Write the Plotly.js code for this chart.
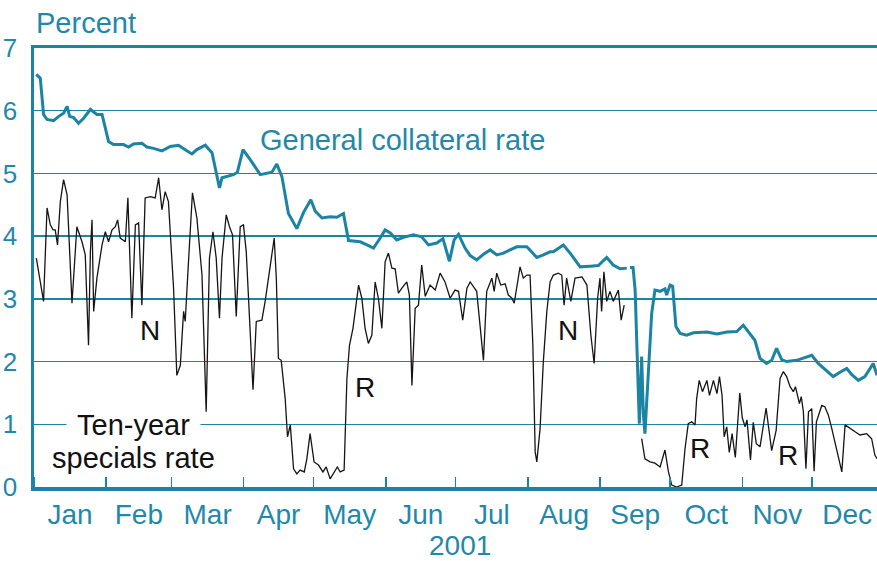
<!DOCTYPE html>
<html>
<head>
<meta charset="utf-8">
<script src="https://cdn.plot.ly/plotly-3.0.1.min.js"></script>
<style>
html,body{margin:0;padding:0;background:#ffffff;}
#chart{width:877px;height:561px;}
</style>
</head>
<body>
<div id="chart"></div>
<script>
// ---- Data (day of year 2001, percent) ----
const YEAR = 2001;

const gcDay = [
  1.0, 2.7, 4.1, 5.6, 8.4, 10.6, 12.7, 14.2, 15.3, 17.0,
  19.1, 21.3, 24.2, 27.0, 29.2, 32.0, 34.1, 38.4, 40.6, 42.7,
  46.3, 48.5, 51.3, 54.9, 58.5, 62.0, 65.6, 67.8, 69.9, 73.5,
  76.4, 79.6, 80.7, 85.6, 87.3, 89.7, 92.8, 97.1, 102.1, 104.2,
  106.4, 109.2, 112.8, 115.7, 118.8, 120.7, 123.6, 127.1, 130.0, 132.8,
  135.0, 137.1, 140.0, 142.9, 145.7, 148.6, 150.7, 152.9, 155.7, 158.6,
  162.8, 166.4, 169.3, 172.9, 175.5, 178.3, 180.3, 182.2, 185.0, 187.2,
  190.0, 192.9, 195.8, 198.6, 201.5, 204.3, 207.2, 211.5, 212.9, 215.8,
  218.6, 221.5, 222.9, 227.2, 230.1, 232.9, 234.4, 238.7, 242.2, 245.8,
  248.6, 251.5, 254.4, 255.1, 255.8, 257.1, 258.0, 258.9, 259.8, 260.8,
  261.5, 262.2, 263.7, 265.1, 266.5, 268.7, 270.8, 271.5, 273.0, 274.1,
  275.5, 277.3, 280.1, 283.0, 288.8, 293.1, 297.4, 301.6, 304.4, 307.3,
  309.4, 311.6, 314.4, 316.6, 318.7, 320.9, 323.0, 327.3, 331.6, 333.8,
  336.6, 340.2, 343.0, 345.9, 348.8, 351.0, 353.8, 356.6, 358.8, 360.2,
  361.8
];
const gcRate = [
  6.58, 6.52, 5.94, 5.86, 5.84, 5.91, 5.96, 6.07, 5.91, 5.89,
  5.80, 5.88, 6.02, 5.94, 5.94, 5.51, 5.46, 5.46, 5.42, 5.47,
  5.48, 5.42, 5.40, 5.36, 5.43, 5.45, 5.36, 5.31, 5.38, 5.45,
  5.33, 4.77, 4.93, 4.98, 5.02, 5.38, 5.22, 4.98, 5.02, 5.15,
  4.95, 4.36, 4.12, 4.38, 4.58, 4.40, 4.29, 4.31, 4.30, 4.36,
  3.93, 3.92, 3.91, 3.86, 3.81, 3.97, 4.10, 4.05, 3.94, 3.98,
  4.02, 3.99, 3.86, 3.89, 3.96, 3.60, 3.94, 4.03, 3.81, 3.69,
  3.62, 3.71, 3.78, 3.70, 3.73, 3.78, 3.83, 3.83, 3.78, 3.66,
  3.70, 3.75, 3.75, 3.86, 3.73, 3.59, 3.51, 3.52, 3.53, 3.66,
  3.54, 3.48, 3.49, null, 3.50, 3.50, 3.14, 2.13, 1.01, 2.08,
  1.17, 0.85, 1.81, 2.77, 3.14, 3.12, 3.16, 3.06, 3.22, 3.20,
  2.56, 2.45, 2.42, 2.46, 2.47, 2.44, 2.47, 2.48, 2.58, 2.45,
  2.34, 2.05, 1.97, 2.02, 2.21, 2.03, 2.00, 2.02, 2.08, 2.10,
  1.97, 1.86, 1.76, 1.83, 1.89, 1.79, 1.70, 1.76, 1.89, 1.97,
  1.78
];

const spDay = [
  1.0, 2.7, 4.1, 5.6, 7.0, 8.2, 9.1, 10.1, 11.3, 12.7,
  14.2, 16.3, 18.4, 20.6, 22.0, 23.4, 24.2, 24.9, 25.6, 27.0,
  29.2, 30.6, 32.0, 33.5, 34.9, 35.9, 37.0, 39.2, 40.3, 42.0,
  43.5, 44.9, 46.3, 47.7, 49.9, 52.0, 53.5, 54.9, 56.3, 57.7,
  59.9, 61.3, 62.8, 64.2, 64.9, 66.3, 68.0, 69.9, 72.1, 73.9,
  75.3, 76.8, 78.2, 79.6, 80.7, 82.5, 83.9, 85.2, 86.8, 88.5,
  89.9, 91.1, 92.5, 94.0, 95.4, 97.8, 99.2, 101.4, 103.1, 104.0,
  104.9, 106.1, 107.8, 108.8, 110.0, 111.4, 112.8, 114.2, 116.0, 117.1,
  118.5, 120.2, 122.1, 124.0, 125.4, 127.1, 128.5, 130.2, 131.4, 133.1,
  134.3, 135.4, 136.9, 137.8, 139.3, 140.7, 142.1, 143.5, 145.0, 146.4,
  147.8, 149.3, 150.7, 152.1, 153.6, 155.0, 156.4, 157.9, 160.0, 161.1,
  162.2, 163.6, 165.0, 166.4, 167.9, 170.0, 172.2, 174.3, 176.4, 178.6,
  180.7, 182.2, 184.0, 185.8, 187.2, 190.0, 191.8, 192.9, 194.3, 196.5,
  197.5, 198.6, 200.3, 202.2, 203.6, 205.1, 206.1, 207.2, 208.6, 210.0,
  211.5, 212.9, 214.1, 215.1, 215.8, 217.2, 218.6, 220.1, 221.5, 222.9,
  225.0, 226.5, 227.5, 228.6, 230.4, 232.2, 235.2, 237.3, 239.0, 240.4,
  241.9, 242.9, 243.6, 244.6, 245.8, 247.2, 248.6, 250.8, 252.0, 253.3,
  255.0, 260.8, 262.2, 264.4, 266.5, 268.7, 270.8, 272.3, 273.7, 275.8,
  278.0, 279.4, 280.8, 282.3, 283.7, 284.4, 285.5, 286.9, 288.8, 289.9,
  291.6, 293.1, 294.2, 295.3, 296.2, 297.3, 298.4, 299.6, 301.0, 302.9,
  304.0, 305.2, 306.0, 307.5, 308.7, 310.0, 311.6, 314.2, 316.6, 318.5,
  320.2, 321.6, 323.0, 324.5, 325.9, 326.8, 328.5, 329.3, 330.2, 331.3,
  332.4, 333.8, 334.8, 335.8, 338.1, 339.4, 340.9, 342.4, 343.8, 345.3,
  346.7, 348.1, 350.2, 352.4, 354.5, 357.4, 359.5, 360.9, 361.8
];
const spRate = [
  3.65, 3.27, 2.96, 4.45, 4.18, 4.10, 4.10, 3.86, 4.55, 4.90,
  4.66, 2.93, 4.15, 3.91, 3.70, 2.26, 3.75, 4.26, 2.80, 3.33,
  3.86, 4.07, 3.91, 4.10, 4.15, 4.26, 3.97, 3.91, 4.61, 2.69,
  4.18, 4.21, 2.90, 4.61, 4.63, 4.61, 4.93, 4.42, 4.71, 4.55,
  3.17, 1.78, 1.94, 2.80, 2.64, 3.59, 4.69, 4.29, 3.38, 1.20,
  3.65, 4.07, 3.65, 2.69, 3.65, 4.34, 4.15, 4.02, 2.72, 4.15,
  4.18, 3.75, 2.69, 1.55, 2.64, 2.66, 2.96, 3.49, 3.97, 3.33,
  2.05, 2.02, 1.41, 0.80, 0.99, 0.29, 0.21, 0.27, 0.24, 0.45,
  0.85, 0.40, 0.35, 0.24, 0.32, 0.13, 0.21, 0.32, 0.24, 0.27,
  1.73, 2.26, 2.53, 2.80, 3.22, 3.01, 2.53, 2.29, 2.42, 3.27,
  3.01, 2.53, 3.59, 3.73, 3.49, 3.48, 3.09, 3.17, 3.27, 3.06,
  1.62, 2.85, 2.90, 3.54, 3.04, 3.22, 3.14, 3.41, 3.27, 3.01,
  3.14, 3.12, 2.66, 3.17, 3.27, 3.12, 2.42, 2.02, 3.12, 3.33,
  3.12, 3.41, 3.22, 3.24, 3.06, 3.01, 2.93, 3.17, 3.51, 3.33,
  3.38, 3.38, 2.26, 0.56, 0.40, 0.93, 2.00, 2.80, 3.27, 3.38,
  3.41, 3.38, 2.90, 3.33, 2.96, 3.33, 3.35, 3.22, 2.42, 1.97,
  3.01, 3.33, 2.80, 3.43, 2.96, 3.12, 2.96, 3.14, 2.66, 2.90,
  null, 0.77, 0.45, 0.40, 0.38, 0.32, 0.59, 0.24, 0.03, 0.00,
  0.03, 0.61, 1.01, 1.04, 0.99, 1.41, 1.70, 1.52, 1.70, 1.46,
  1.70, 1.49, 1.76, 1.46, 0.80, 0.96, 0.55, 0.85, 0.47, 1.50,
  1.10, 0.96, 1.07, 0.43, 1.03, 0.69, 0.64, 1.26, 0.58, 0.90,
  1.73, 1.84, 1.76, 1.60, 1.52, 1.60, 1.33, 1.44, 1.20, 0.29,
  1.20, 1.25, 0.25, 1.04, 1.30, 1.28, 1.15, 0.93, 0.72, 0.45,
  0.24, 0.99, 0.93, 0.88, 0.83, 0.85, 0.77, 0.51, 0.45
];

const yTickVals = [0, 1, 2, 3, 4, 5, 6, 7];
const xRangeDays = [0, 361.8];

// ---- Styling ----
const TEAL = '#1b84a5';
const TEXT_TEAL = '#1f88ab';
const FONT = 'Liberation Sans, Arial, Helvetica, sans-serif';

function dayToDate(d) {
  const ms = Date.UTC(YEAR, 0, 1) + d * 86400000;
  return new Date(ms).toISOString().replace('T', ' ').slice(0, 19);
}

const traces = [
  {
    x: spDay.map(dayToDate), y: spRate,
    type: 'scatter', mode: 'lines', connectgaps: false,
    line: {color: '#151515', width: 1.3},
    hoverinfo: 'skip', showlegend: false
  },
  {
    x: gcDay.map(dayToDate), y: gcRate,
    type: 'scatter', mode: 'lines', connectgaps: false,
    line: {color: TEAL, width: 3},
    hoverinfo: 'skip', showlegend: false
  }
];

const letterFont = {family: FONT, size: 28, color: '#111111'};
const layout = {
  width: 877, height: 561,
  margin: {l: 34, r: 0, t: 48, b: 74, pad: 0},
  paper_bgcolor: '#ffffff', plot_bgcolor: '#ffffff',
  showlegend: false,
  xaxis: {
    type: 'date',
    range: xRangeDays.map(dayToDate),
    tick0: '2001-01-01', dtick: 'M1',
    ticklabelmode: 'period', tickformat: '%b',
    ticks: 'inside', ticklen: 10, tickwidth: 1.5, tickcolor: TEAL,
    showline: true, linecolor: TEAL, linewidth: 3.5, mirror: true,
    showgrid: false, zeroline: false,
    tickfont: {family: FONT, size: 28, color: TEXT_TEAL},
    ticklabelstandoff: 0,
    automargin: false, fixedrange: true
  },
  yaxis: {
    range: [0, 7],
    tickmode: 'array', tickvals: yTickVals, ticktext: yTickVals.map(String),
    ticks: '', showline: true, linecolor: TEAL, linewidth: 3.5,
    showgrid: true, gridcolor: TEAL, gridwidth: 1.5,
    zeroline: false,
    tickfont: {family: FONT, size: 26, color: TEXT_TEAL},
    ticklabelstandoff: 8,
    automargin: false, fixedrange: true
  },
  annotations: [
    {text: 'Percent', xref: 'paper', yref: 'paper', x: 0, y: 1, xanchor: 'left', yanchor: 'middle',
     yshift: 25, showarrow: false, font: {family: FONT, size: 29, color: TEXT_TEAL}},
    {text: 'General collateral rate', xref: 'paper', yref: 'y', x: 0.2657, y: 5.54, xanchor: 'left', yanchor: 'middle',
     showarrow: false, font: {family: FONT, size: 29, color: TEXT_TEAL}},
    {text: 'Ten-year', xref: 'paper', yref: 'y', x: 0.1186, y: 0.99, xanchor: 'center', yanchor: 'middle',
     showarrow: false, bgcolor: '#ffffff', borderpad: 10, font: {family: FONT, size: 29, color: '#111111'}},
    {text: 'specials rate', xref: 'paper', yref: 'y', x: 0.1186, y: 0.47, xanchor: 'center', yanchor: 'middle',
     showarrow: false, font: {family: FONT, size: 29, color: '#111111'}},
    {text: 'N', xref: 'x', yref: 'y', x: dayToDate(49.9), y: 2.5, showarrow: false, font: letterFont},
    {text: 'R', xref: 'x', yref: 'y', x: dayToDate(142.1), y: 1.58, showarrow: false, font: letterFont},
    {text: 'N', xref: 'x', yref: 'y', x: dayToDate(229.2), y: 2.5, showarrow: false, font: letterFont},
    {text: 'R', xref: 'x', yref: 'y', x: dayToDate(285.8), y: 0.62, showarrow: false, font: letterFont},
    {text: 'R', xref: 'x', yref: 'y', x: dayToDate(323.6), y: 0.51, showarrow: false, font: letterFont},
    {text: '2001', xref: 'paper', yref: 'paper', x: 0.505, y: 0, xanchor: 'center', yanchor: 'middle',
     yshift: -58, showarrow: false, font: {family: FONT, size: 28, color: TEXT_TEAL}}
  ]
};

Plotly.newPlot('chart', traces, layout, {staticPlot: true, displayModeBar: false});
</script>
</body>
</html>
